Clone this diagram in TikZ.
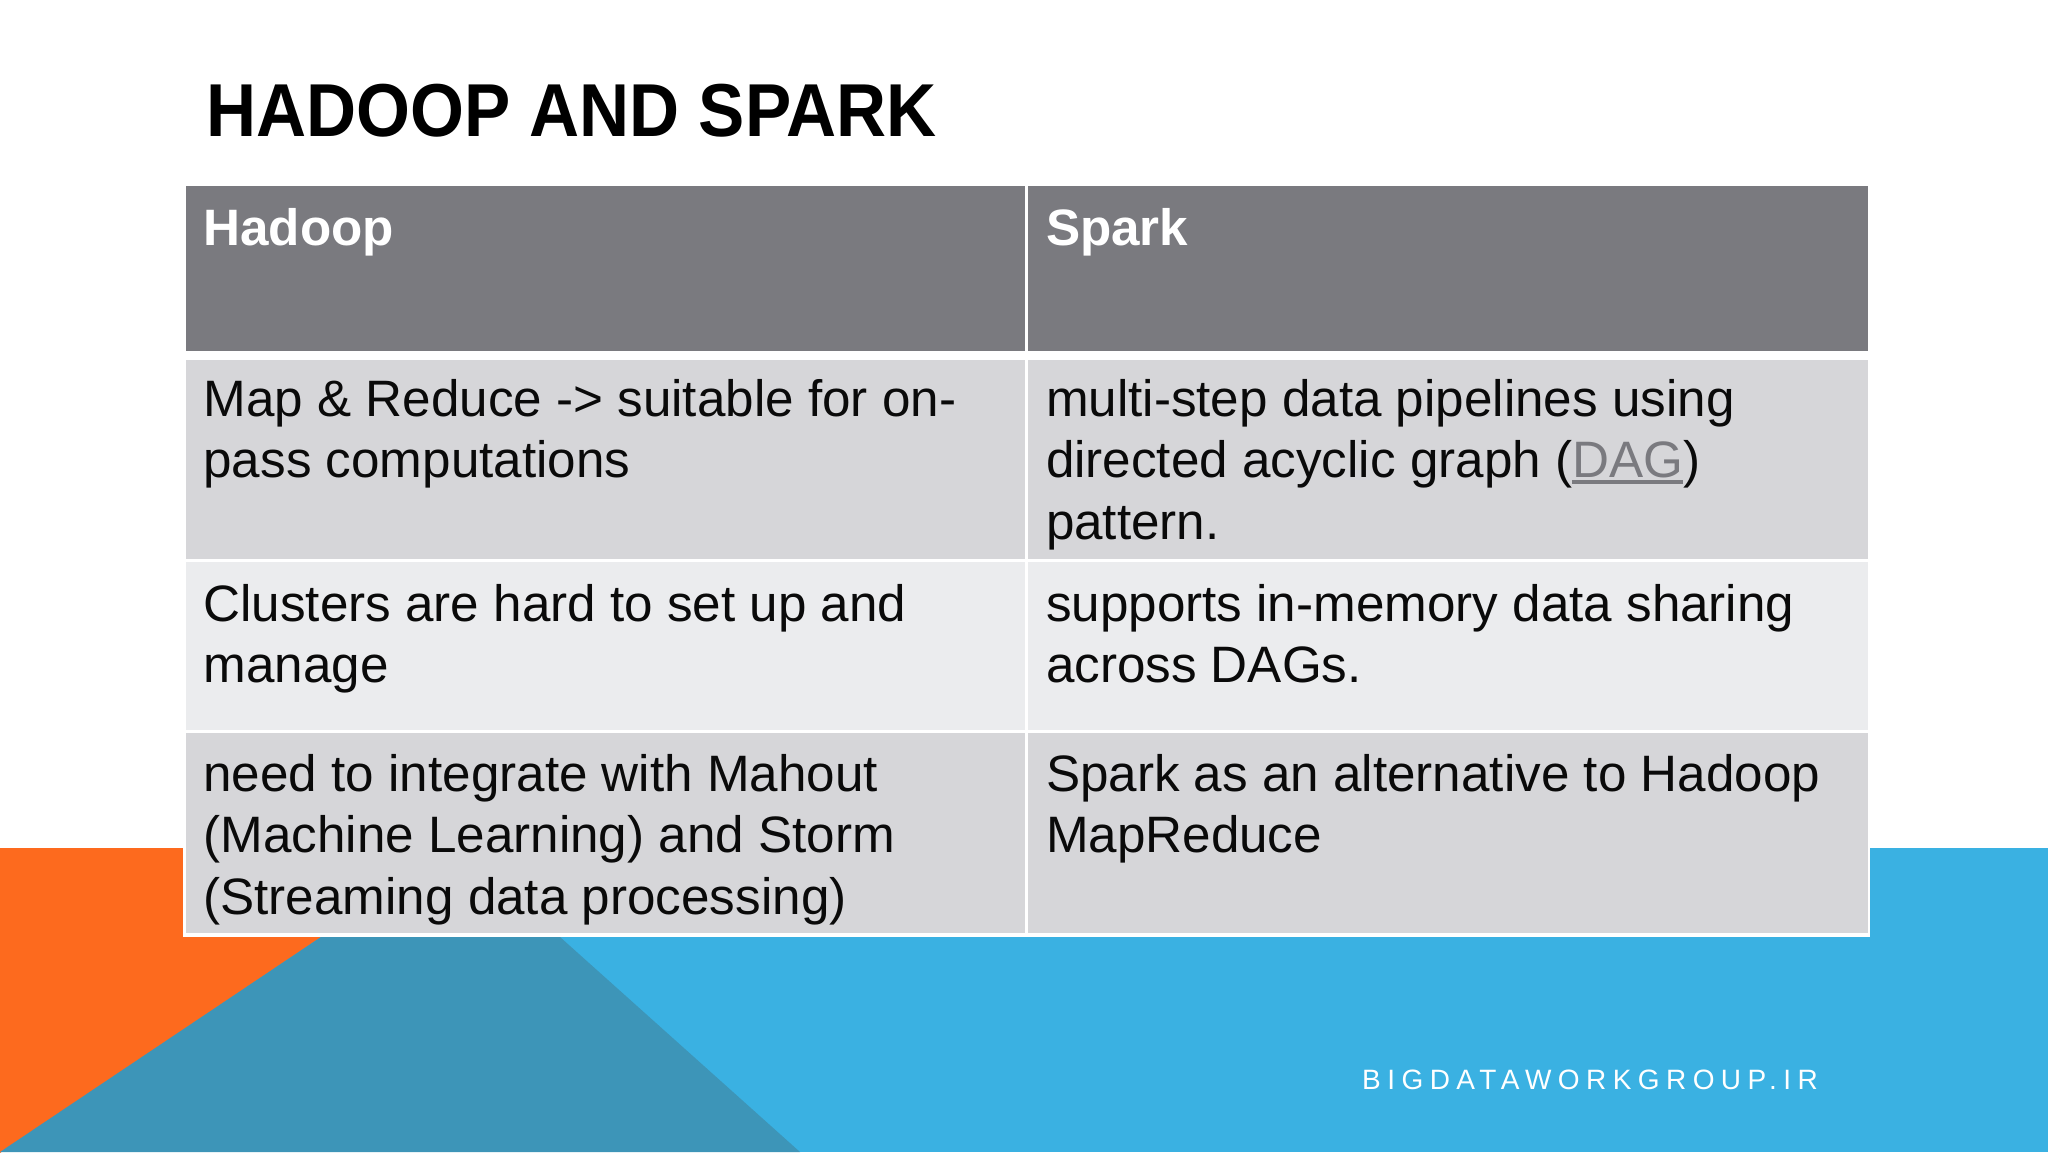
\documentclass[tikz,border=0pt]{standalone}
\usepackage{fontspec}
\setmainfont{Liberation Sans}
\newfontfamily\spacedfont[LetterSpace=23]{Liberation Sans}
\newfontfamily\titlefont[FakeStretch=0.924]{Liberation Sans}
\definecolor{orangebg}{HTML}{FD6A1E}
\definecolor{bluebg}{HTML}{3AB1E2}
\definecolor{tealbg}{HTML}{3D95B8}
\definecolor{headfill}{HTML}{7A7A7F}
\definecolor{rowdark}{HTML}{D6D6D9}
\definecolor{rowlight}{HTML}{EBECEE}
\definecolor{inkblack}{HTML}{0A0A0A}
\newcommand{\firstline}{\rule{0pt}{40pt}}
\newcommand{\linktext}[1]{\setbox0\hbox{#1}\rlap{\rule[-6pt]{\wd0}{3.5pt}}\box0}
\tikzset{
  cellbox/.style={anchor=north west,inner sep=0pt,outer sep=0pt,draw=none},
  celltext/.style={anchor=north west,inner sep=0pt,outer sep=0pt,align=left,text=inkblack,font=\fontsize{51.2}{61.5}\selectfont},
  headtext/.style={anchor=north west,inner sep=0pt,outer sep=0pt,align=left,text=white,font=\fontsize{51.2}{61.5}\selectfont\bfseries}
}
\begin{document}
\begin{tikzpicture}[x=1pt,y=-1pt]
\useasboundingbox (0,0) rectangle (2048,1152);
\fill[white] (0,0) rectangle (2048,1152);
\fill[bluebg] (0,848) rectangle (2048,1152);
\fill[orangebg] (0,848) rectangle (600,937);
\fill[orangebg] (0,937) -- (321,937) -- (0,1153) -- cycle;
\fill[tealbg] (321,937) -- (560,937) -- (800,1152) -- (0,1152) -- cycle;
% table backing
\fill[white] (183,184) rectangle (1870,937);
% cells
\node[cellbox,fill=headfill,minimum width=839pt,minimum height=165pt] (h1) at (186,186) {};
\node[cellbox,fill=headfill,minimum width=839.8pt,minimum height=165pt] (h2) at (1027.7,186) {};
\node[cellbox,fill=rowdark,minimum width=839pt,minimum height=198.5pt] (a1) at (186,360) {};
\node[cellbox,fill=rowdark,minimum width=839.8pt,minimum height=198.5pt] (a2) at (1027.7,360) {};
\node[cellbox,fill=rowlight,minimum width=839pt,minimum height=168pt] (b1) at (186,562) {};
\node[cellbox,fill=rowlight,minimum width=839.8pt,minimum height=168pt] (b2) at (1027.7,562) {};
\node[cellbox,fill=rowdark,minimum width=839pt,minimum height=200pt] (c1) at (186,733) {};
\node[cellbox,fill=rowdark,minimum width=839.8pt,minimum height=200pt] (c2) at (1027.7,733) {};
% texts
\node[anchor=base west,inner sep=0pt,text=black,font=\fontsize{75}{75}\selectfont\titlefont\bfseries] (title) at (206,136) {HADOOP AND SPARK};
\node[headtext] (th1) at (203.5,205) {\firstline Hadoop};
\node[headtext] (th2) at (1046,205) {\firstline Spark};
\node[celltext] (ta1) at (203.5,376) {\firstline Map \& Reduce -> suitable for on-\\pass computations};
\node[celltext] (ta2) at (1046,376) {\firstline multi-step data pipelines using\\directed acyclic graph (\textcolor{headfill}{\linktext{DAG}})\\pattern.};
\node[celltext] (tb1) at (203.5,581) {\firstline Clusters are hard to set up and\\manage};
\node[celltext] (tb2) at (1046,581) {\firstline supports in-memory data sharing\\across DAGs.};
\node[celltext] (tc1) at (203.5,751) {\firstline need to integrate with Mahout\\(Machine Learning) and Storm\\(Streaming data processing)};
\node[celltext] (tc2) at (1046,751) {\firstline Spark as an alternative to Hadoop\\MapReduce};
\node[anchor=base west,inner sep=0pt,text=white,font=\fontsize{28}{28}\selectfont\spacedfont] (foot) at (1362,1089) {BIGDATAWORKGROUP.IR};
\end{tikzpicture}
\end{document}
